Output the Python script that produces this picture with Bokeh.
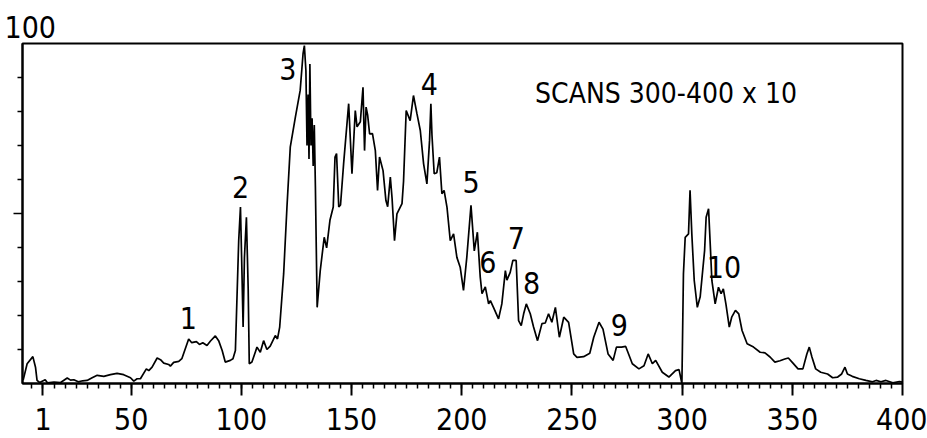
from bokeh.plotting import figure
from bokeh.models import Range1d, FixedTicker, Label, ColumnDataSource
from bokeh.core.properties import value
from bokeh.embed import file_html
from bokeh.resources import INLINE

FONT = "DejaVu Sans Condensed, Liberation Sans Narrow, sans-serif"
FS = "30px"

# Scan number / relative intensity (%)
scans = [
    1, 2.8, 5.4, 6.6, 7.3, 8.5, 11, 12, 15, 18, 21, 22.5, 24, 26, 28, 30,
    32.3, 34.6, 37.6, 40.6, 43.6, 46.6, 49.7, 51.2, 52.7, 54.2, 56.9, 58, 59.5,
    61.8, 63.3, 64.8, 67, 67.8, 69.3, 71.6, 73, 76.1, 77.5, 79.6, 81, 82.5, 84.4,
    86, 88.2, 89.7, 91.3, 92.7, 95, 96.2,
    97.3, 98.8, 99.6, 100.3, 100.8, 101.4, 102.3, 103.1, 103.6, 104.8, 107.1,
    108.6, 110.1, 111.6, 113.1, 115.4, 116.4, 117.4, 119.2, 120.7, 122.2, 124.5,
    126.7, 128, 128.6, 129.3, 129.8, 130.3, 130.7, 131.1, 131.6, 132.1, 132.6,
    133.1, 133.6, 134.0, 134.4, 135.8, 137.6, 138.7, 140.2, 141.7, 142.5, 143.2,
    144.2, 145, 146.4, 148.7, 150.2, 151.7, 152.5, 154, 155.2, 155.9, 156.6,
    157.3, 158.2, 159.5, 160.8, 161.8, 162.7, 164.3, 165.6, 166.4, 167.6, 168.4,
    169.5, 170.6, 172.9, 173.6, 174.8, 176.6, 178.1, 179.7, 181.2, 182.7, 184.2,
    185.4, 186, 186.5, 187.5, 188.7, 189.9, 191, 192, 193.3, 194.8, 196.3, 197.8,
    199.3, 200.8, 202.3, 204.2, 205.7, 207.1, 208.4, 209.2, 210.7, 212.2, 213,
    214.4, 216.7, 218.2, 219.8, 220.5, 222, 223.2, 224.7, 225.8, 227, 228.1,
    229.3, 231.1, 232.6, 234.4, 236.4, 237.9, 239.4, 240.9, 242.5, 244.3, 246.3,
    248.5, 250.8, 252.3, 255.3, 258.1, 259.9, 262.3, 264.1, 266.4, 268.7, 270.2,
    272.5, 274.4, 277.4, 280.4, 282.7, 284.6, 286.5, 288, 291, 294, 297, 298.6,
    299.9, 300.6, 301.4, 302.9, 303.6, 304.4, 305.5, 306.9, 308.2, 310.2, 310.9,
    312, 312.9, 313.5, 315, 316.5, 317.7, 318.7, 319.9, 321.4, 322.5, 324.2,
    325.7, 327.2, 329.5, 332.4, 335.4, 337.6, 339.9, 342.1, 344.4, 346.6, 348.2,
    350.3, 352.6, 354.8, 356.6, 357.7, 358.9, 360.6, 362.9, 366, 368.3, 370.6,
    372.4, 373.9, 375, 377.2, 380.4, 383.4, 386.4, 388, 390.2, 392.5, 395.6,
    398.6, 400,
]
intensity = [
    1.0, 5.8, 7.9, 4.8, 0.9, 0.3, 1.1, 0.2, 0.4, 0.3, 1.6, 1.0, 1.1, 0.5, 0.8, 0.9,
    1.7, 2.4, 2.1, 2.6, 3.0, 2.6, 1.7, 0.7, 1.4, 1.4, 4.3, 3.8, 4.8,
    7.5, 7.0, 6.0, 5.6, 5.1, 6.2, 6.5, 7.3, 13.1, 12.0, 12.3, 11.5, 12.0, 11.2,
    12.5, 14.0, 12.6, 9.7, 6.3, 6.8, 7.3,
    9.7, 42, 51.9, 32, 16.6, 37, 48.9, 28, 5.8, 6.3, 10.7,
    9.2, 12.6, 10, 11, 14.1, 13.1, 16.6, 32.3, 51.9, 69.5, 78.3,
    86.2, 97, 99.4, 92, 70, 85, 66, 94, 70, 78, 64,
    76, 58, 40, 22.4, 33.2, 43, 39.9, 48, 51.9, 66.6, 67.6,
    51.9, 52.5, 64.6, 82.3, 61.7, 80.3, 75.5, 77, 87.1, 68.5, 81.3,
    79, 73.4, 73.5, 68.5, 56.8, 66.6, 62.6, 53.8, 52, 60.7, 54.4,
    42, 49.9, 52.9, 59.5, 80.3, 77.3, 84.7, 79.3, 74.4, 64.6, 58.7,
    71.5, 82.3, 73, 61.7, 62, 66.6, 55.8, 56.8, 51.9, 42, 44, 37.1,
    34.2, 27.4, 37.1, 52.4, 39, 44.5, 31.3, 26.4, 28.4, 23.4, 24.4,
    22.4, 19, 23.4, 33.2, 30.4, 32.7, 36.2, 36.2, 18.5, 17, 20.5,
    23.4, 20.5, 16.6, 12.6, 17.6, 17.8, 20.5, 18, 22.4, 13.6, 19.5,
    18, 8.7, 7.7, 7.9, 8.9, 13.6, 18, 16, 8.7, 6.8, 10.7,
    10.7, 10.9, 5.8, 4.3, 5.2, 8.7, 5.8, 6.8, 3.3, 1.9, 3.8, 4.1,
    0, 32.3, 43, 44, 56.8, 44, 30.3, 22.4, 25.5, 39.1, 48.9,
    51.4, 39, 30.3, 23.4, 28.3, 26.4, 27.8, 23.3, 16.6, 19.5, 21.5,
    20.5, 15.6, 11.7, 10.7, 9.2, 9.0, 7.8, 6.3, 6.7, 7.2, 7.5,
    6, 4.3, 4.3, 8.7, 10.7, 7.8, 4.3, 3.3, 2.8, 1.7, 1.9,
    2.8, 4.8, 2.8, 2.1, 1.4, 0.9, 0.5, 0.9, 0.5, 0.9, 0.2,
    0.6, 0.4,
]

peak_labels = ["1", "2", "3", "4", "5", "6", "7", "8", "9", "10"]
peak_x = [76, 99.6, 121.1, 185.3, 204.3, 211.8, 224.8, 231.7, 271.5, 319]
peak_y = [19.4, 57.9, 92.6, 88.2, 59.4, 35.6, 42.9, 29.7, 17.3, 34.4]

x_major = [10, 50, 100, 150, 200, 250, 300, 350, 400]
x_major_labels = {10: "1"}
x_minor = list(range(5, 400, 5))
y_major = [50]
y_minor = [10, 20, 30, 40, 60, 70, 80, 90]

p = figure(width=927, height=438, output_backend="svg", toolbar_location=None,
           x_range=Range1d(0.7, 400), y_range=Range1d(0, 100),
           min_border_left=22, min_border_right=25, min_border_top=43,
           min_border_bottom=55)
p.background_fill_color = "white"
p.border_fill_color = "white"
p.outline_line_color = "black"
p.outline_line_width = 2
p.xgrid.visible = False
p.ygrid.visible = False

# "100" above the top-left corner
p.title.text = "100"
p.title.align = "left"
p.title.offset = -18
p.title.standoff = 11
p.title.text_font = FONT
p.title.text_font_size = FS
p.title.text_font_style = "normal"
p.title.text_color = "black"

p.line(scans, intensity, line_color="black", line_width=1.7)

src = ColumnDataSource(dict(x=peak_x, y=peak_y, t=peak_labels))
p.text(x="x", y="y", text="t", source=src, text_font=value(FONT),
       text_font_size=FS, text_align="center", text_baseline="alphabetic",
       text_color="black")

p.add_layout(Label(x=292.7, y=85.3, text="SCANS 300-400 x 10", text_font=FONT,
                   text_font_size="28px", text_align="center",
                   text_baseline="alphabetic", text_color="black"))

xa = p.xaxis[0]
xa.ticker = FixedTicker(ticks=x_major, minor_ticks=x_minor)
xa.major_label_overrides = x_major_labels
xa.axis_line_width = 2
xa.major_tick_line_width = 2
xa.minor_tick_line_width = 1.5
xa.major_tick_out = 12
xa.major_tick_in = 0
xa.minor_tick_out = 5
xa.minor_tick_in = 0
xa.major_label_text_font = FONT
xa.major_label_text_font_size = FS
xa.major_label_text_color = "black"
xa.major_label_standoff = 12

ya = p.yaxis[0]
ya.ticker = FixedTicker(ticks=y_major, minor_ticks=y_minor)
ya.axis_line_width = 2
ya.major_tick_line_width = 1.5
ya.minor_tick_line_width = 1.5
ya.major_tick_out = 9
ya.major_tick_in = 0
ya.minor_tick_out = 5
ya.minor_tick_in = 0
ya.major_label_overrides = {50: ""}
ya.major_label_text_font_size = "0px"
ya.major_label_standoff = 0

open("out.html", "w").write(file_html(p, INLINE))
